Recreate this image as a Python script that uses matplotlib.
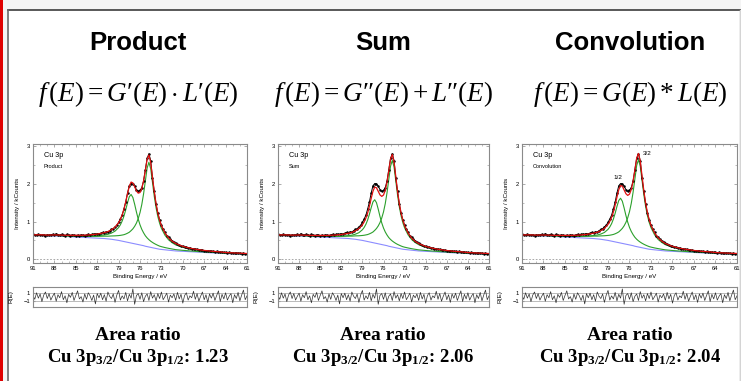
import numpy as np
import matplotlib
matplotlib.use("Agg")
import matplotlib.pyplot as plt
from matplotlib.patches import Rectangle
from matplotlib.lines import Line2D
from matplotlib.ticker import MultipleLocator

# fit grid (binding energy, eV), finer around the Cu 3p doublet
E_FIT = [91, 90, 89, 88, 87, 86, 85, 84, 83, 82, 81, 80.5, 80, 79.5, 79,
         78.75, 78.5, 78.25, 78, 77.75, 77.5, 77.25, 77, 76.75, 76.5, 76.25,
         76, 75.75, 75.5, 75.25, 75, 74.75, 74.5, 74.25, 74, 73.75, 73.5,
         73.25, 73, 72.5, 72, 71.5, 71, 70, 69, 68, 67, 66, 65, 64, 63, 62, 61]

# Shirley-type background (kCounts)
BACKGROUND = [0.63, 0.63, 0.62, 0.62, 0.61, 0.60, 0.59, 0.58, 0.57, 0.56, 0.55,
              0.54, 0.53, 0.515, 0.50, 0.49, 0.48, 0.47, 0.46, 0.45, 0.44, 0.43,
              0.42, 0.41, 0.40, 0.39, 0.38, 0.37, 0.36, 0.345, 0.335, 0.325,
              0.315, 0.305, 0.295, 0.285, 0.275, 0.265, 0.26, 0.25, 0.24, 0.23,
              0.22, 0.21, 0.20, 0.19, 0.18, 0.17, 0.165, 0.15, 0.145, 0.14, 0.135]

# peak components above background, one pair per model
PROD_12 = [0.008, 0.009, 0.010, 0.012, 0.015, 0.018, 0.023, 0.030, 0.042, 0.060,
           0.094, 0.122, 0.164, 0.231, 0.342, 0.424, 0.534, 0.676, 0.854, 1.051,
           1.220, 1.290, 1.220, 1.051, 0.854, 0.676, 0.534, 0.424, 0.342, 0.279,
           0.231, 0.194, 0.164, 0.141, 0.122, 0.107, 0.094, 0.083, 0.074, 0.060,
           0.050, 0.042, 0.035, 0.026, 0.021, 0.016, 0.013, 0.011, 0.009, 0.008,
           0.007, 0.006, 0.005]
PROD_32 = [0.009, 0.010, 0.011, 0.014, 0.016, 0.018, 0.023, 0.027, 0.036, 0.047,
           0.063, 0.072, 0.088, 0.106, 0.128, 0.144, 0.162, 0.182, 0.209, 0.241,
           0.277, 0.329, 0.387, 0.464, 0.560, 0.689, 0.857, 1.082, 1.375, 1.733,
           2.088, 2.250, 2.088, 1.733, 1.375, 1.082, 0.857, 0.689, 0.560, 0.387,
           0.277, 0.209, 0.162, 0.106, 0.072, 0.054, 0.041, 0.032, 0.025, 0.020,
           0.017, 0.015, 0.012]
SUM_12 = [0.006, 0.007, 0.008, 0.010, 0.012, 0.015, 0.019, 0.025, 0.034, 0.049,
          0.076, 0.099, 0.135, 0.190, 0.283, 0.354, 0.449, 0.575, 0.736, 0.920,
          1.082, 1.150, 1.082, 0.920, 0.736, 0.575, 0.449, 0.354, 0.283, 0.230,
          0.190, 0.159, 0.135, 0.115, 0.099, 0.087, 0.076, 0.068, 0.060, 0.049,
          0.040, 0.034, 0.029, 0.022, 0.017, 0.013, 0.011, 0.009, 0.008, 0.007,
          0.006, 0.005, 0.004]
SUM_32 = [0.009, 0.010, 0.012, 0.014, 0.016, 0.018, 0.023, 0.028, 0.037, 0.048,
          0.064, 0.074, 0.090, 0.108, 0.131, 0.147, 0.166, 0.186, 0.214, 0.246,
          0.283, 0.336, 0.396, 0.474, 0.573, 0.704, 0.876, 1.106, 1.405, 1.771,
          2.134, 2.300, 2.134, 1.771, 1.405, 1.106, 0.876, 0.704, 0.573, 0.396,
          0.283, 0.214, 0.166, 0.108, 0.074, 0.055, 0.041, 0.032, 0.025, 0.021,
          0.017, 0.015, 0.013]
CONV_12 = [0.006, 0.007, 0.009, 0.010, 0.012, 0.015, 0.020, 0.026, 0.035, 0.050,
           0.079, 0.103, 0.139, 0.196, 0.293, 0.367, 0.464, 0.595, 0.762, 0.952,
           1.120, 1.190, 1.120, 0.952, 0.762, 0.595, 0.464, 0.367, 0.293, 0.238,
           0.196, 0.164, 0.139, 0.119, 0.103, 0.090, 0.079, 0.070, 0.062, 0.050,
           0.042, 0.035, 0.030, 0.022, 0.017, 0.014, 0.011, 0.009, 0.008, 0.007,
           0.006, 0.005, 0.005]
CONV_32 = [0.009, 0.010, 0.012, 0.014, 0.016, 0.019, 0.023, 0.028, 0.037, 0.049,
           0.065, 0.074, 0.090, 0.109, 0.132, 0.148, 0.167, 0.188, 0.216, 0.248,
           0.285, 0.339, 0.399, 0.478, 0.578, 0.710, 0.884, 1.116, 1.418, 1.786,
           2.153, 2.320, 2.153, 1.786, 1.418, 1.116, 0.884, 0.710, 0.578, 0.399,
           0.285, 0.216, 0.167, 0.109, 0.074, 0.056, 0.042, 0.032, 0.026, 0.021,
           0.017, 0.015, 0.013]

# measured spectrum, 0.25 eV steps from 91 to 61 eV
COUNTS = [0.66, 0.65, 0.64, 0.66, 0.65, 0.64, 0.65, 0.63,
          0.65, 0.64, 0.65, 0.66, 0.64, 0.68, 0.65, 0.64,
          0.66, 0.65, 0.63, 0.66, 0.64, 0.63, 0.65, 0.64,
          0.63, 0.64, 0.63, 0.65, 0.64, 0.63, 0.65, 0.66,
          0.64, 0.66, 0.67, 0.66, 0.68, 0.67, 0.69, 0.71,
          0.70, 0.73, 0.72, 0.76, 0.79, 0.81, 0.86, 0.90,
          0.98, 1.07, 1.17, 1.34, 1.52, 1.76, 1.95, 2.01,
          2.00, 1.94, 1.85, 1.80, 1.83, 1.90, 2.08, 2.38,
          2.68, 2.80, 2.62, 2.15, 1.80, 1.46, 1.22, 1.05,
          0.90, 0.79, 0.71, 0.62, 0.58, 0.53, 0.49, 0.45,
          0.42, 0.40, 0.37, 0.36, 0.34, 0.33, 0.32, 0.30,
          0.30, 0.28, 0.28, 0.27, 0.26, 0.25, 0.25, 0.24,
          0.23, 0.23, 0.22, 0.22, 0.21, 0.21, 0.20, 0.21,
          0.20, 0.19, 0.19, 0.18, 0.18, 0.17, 0.18, 0.17,
          0.17, 0.16, 0.17, 0.16, 0.16, 0.15, 0.16, 0.15,
          0.15]

# normalised residuals on the same channels
RESID = [0.4, -0.6, 1.1, -0.3, 0.8, -1.2, 0.5, 1.3, -0.4, 0.9,
         -0.8, 0.2, 1.0, -1.1, 0.6, -0.2, 1.4, -0.7, 0.3, -1.5,
         0.7, -0.1, 1.2, -0.9, 0.4, 1.6, -0.5, 0.1, -1.3, 0.8,
         -0.6, 1.1, 0.3, -0.9, 0.5, -1.8, 0.9, -0.2, 1.0, -0.7,
         0.6, -1.1, 1.3, 0.2, -0.4, 0.8, -1.4, 0.5, 1.7, -0.8,
         0.3, -0.5, 1.2, -1.0, 0.7, -0.3, 2.1, -1.9, 0.4, 0.9,
         -0.6, 1.1, -1.2, 0.2, 0.8, -0.9, 1.4, -0.3, 0.6, -1.0,
         0.9, -0.4, 1.3, -0.7, 0.1, 1.0, -1.3, 0.5, -0.2, 0.8,
         -0.9, 1.2, -0.5, 0.7, -1.6, 0.4, 1.1, -0.8, 0.3, -0.2,
         1.5, -0.6, 0.9, -1.1, 0.2, 1.3, -0.7, 0.6, -1.4, 0.8,
         -0.3, 1.0, -0.9, 0.4, 1.6, -1.2, 0.7, -0.5, 1.1, -0.8,
         0.2, 0.9, -1.5, 0.6, -0.4, 1.2, -1.0, 0.5, 1.8, -0.7, 0.3]

E_DATA = np.linspace(91, 61, len(COUNTS))

TITLES = ["Product", "Sum", "Convolution"]
FORMULAS = [r"$f\,(E) = G′(E)\cdot L′(E)$",
            r"$f\,(E) = G″(E) + L″(E)$",
            r"$f\,(E) = G(E) * L(E)$"]
RATIOS = ["1.23", "2.06", "2.04"]
COMPONENTS = [(PROD_12, PROD_32), (SUM_12, SUM_32), (CONV_12, CONV_32)]

plt.rcParams["font.family"] = ["Liberation Sans", "DejaVu Sans"]
plt.rcParams["mathtext.fontset"] = "custom"
plt.rcParams["mathtext.rm"] = "Liberation Serif"
plt.rcParams["mathtext.it"] = "Liberation Serif:italic"
plt.rcParams["mathtext.bf"] = "Liberation Serif:bold"

W, H = 741, 381
fig = plt.figure(figsize=(W / 100, H / 100), dpi=100, facecolor="#f4f4f4")

# page frame: white box, dark top/left border, red margin bar
fig.patches.append(Rectangle((8 / W, 0), 731 / W, 1 - 10 / H, transform=fig.transFigure,
                             facecolor="white", edgecolor="none", zorder=-5))
fig.add_artist(Line2D([8 / W, 1], [1 - 9.5 / H] * 2, color="#3c3c3c", lw=1.2, zorder=-4))
fig.add_artist(Line2D([8 / W] * 2, [0, 1 - 9.5 / H], color="#6a6a6a", lw=1.2, zorder=-4))
fig.add_artist(Line2D([739.5 / W] * 2, [0, 1 - 10 / H], color="#d4d4d4", lw=1, zorder=-4))
fig.patches.append(Rectangle((0, 0), 2.6 / W, 1, transform=fig.transFigure,
                             facecolor="#e00000", edgecolor="none", zorder=-4))

PANEL_LEFT = [33, 278, 522]
PANEL_WIDTH = [214, 211, 215]
TITLE_X = [138, 383, 630]
FRAME = "#8a8a8a"

bg = np.array(BACKGROUND)

for i in range(3):
    left = PANEL_LEFT[i] / W
    width = PANEL_WIDTH[i] / W
    ax = fig.add_axes([left, 1 - 263 / H, width, 119 / H])
    axr = fig.add_axes([left, 1 - 307 / H, width, 20 / H])

    g12 = bg + np.array(COMPONENTS[i][0])
    g32 = bg + np.array(COMPONENTS[i][1])
    envelope = bg + np.array(COMPONENTS[i][0]) + np.array(COMPONENTS[i][1])

    ax.axhline(0, color="#9a9a9a", lw=0.6, ls=(0, (2, 2)))
    ax.plot(E_FIT, BACKGROUND, color="#8c8cff", lw=0.8)
    ax.plot(E_FIT, g12, color="#2ca02c", lw=0.8)
    ax.plot(E_FIT, g32, color="#2ca02c", lw=0.8)
    ax.plot(E_DATA, COUNTS, color="black", lw=0.7, marker="o", ms=0.8)
    ax.plot(E_FIT, envelope, color="#e01010", lw=0.9)

    ax.set_xlim(91, 61)
    ax.set_ylim(-0.1, 3.06)
    ax.set_xticks(range(91, 60, -3))
    ax.set_yticks([0, 1, 2, 3])
    ax.xaxis.set_minor_locator(MultipleLocator(1))
    ax.yaxis.set_minor_locator(MultipleLocator(0.5))
    ax.tick_params(which="both", direction="in", top=True, right=True,
                   labelsize=4.2, color=FRAME, pad=2)
    ax.tick_params(which="major", length=2.2, width=0.5)
    ax.tick_params(which="minor", length=1.2, width=0.4)
    for s in ax.spines.values():
        s.set_color(FRAME)
        s.set_linewidth(0.8)
    ax.set_xlabel("Binding Energy / eV", fontsize=4.4, labelpad=2.5)
    ax.set_ylabel("Intensity / kCounts", fontsize=4.5, labelpad=5)
    ax.text(0.05, 0.9, "Cu 3p", transform=ax.transAxes, fontsize=5.2, va="center")
    ax.text(0.05, 0.81, TITLES[i], transform=ax.transAxes, fontsize=4.0, va="center")
    if i == 2:
        ax.text(77.65, 2.16, "1/2", fontsize=4.6, ha="center", va="center")
        ax.text(73.6, 2.8, "3/2", fontsize=4.6, ha="center", va="center")

    axr.axhline(1, color="#a0a0a0", lw=0.5)
    axr.axhline(-1, color="#a0a0a0", lw=0.5)
    axr.plot(E_DATA, RESID, color="#303030", lw=0.5)
    axr.set_xlim(91, 61)
    axr.set_ylim(-2.6, 2.6)
    axr.set_xticks([])
    axr.set_yticks([1, -1])
    axr.tick_params(direction="in", labelsize=4.2, length=1.5, color=FRAME, pad=2)
    for s in axr.spines.values():
        s.set_color(FRAME)
        s.set_linewidth(0.8)
    axr.set_ylabel("R(E)", fontsize=4.5, labelpad=7)

    fig.text(TITLE_X[i] / W, 1 - 43 / H, TITLES[i], fontsize=18.5, fontweight="bold",
             ha="center", va="center")
    fig.text(TITLE_X[i] / W, 1 - 94 / H, FORMULAS[i], fontsize=19.5,
             ha="center", va="center")
    fig.text(TITLE_X[i] / W, 1 - 335 / H, "Area ratio", fontsize=14,
             family="Liberation Serif", fontweight="bold", ha="center", va="center")
    fig.text(TITLE_X[i] / W, 1 - 358 / H,
             r"Cu 3p$_{\mathbf{3/2}}$/Cu 3p$_{\mathbf{1/2}}$: " + RATIOS[i],
             fontsize=13.5, family="Liberation Serif", fontweight="bold",
             ha="center", va="center")

fig.savefig("out.png", dpi=100, facecolor=fig.get_facecolor())
